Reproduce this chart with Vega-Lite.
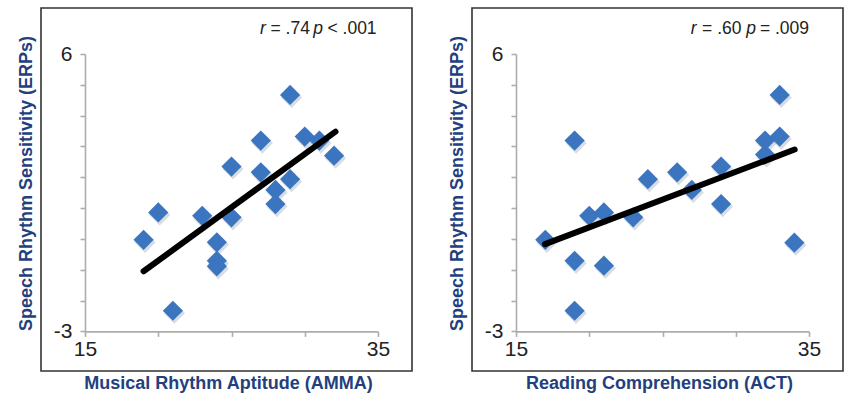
{
  "$schema": "https://vega.github.io/schema/vega-lite/v6.json",
  "padding": {"left": 16, "top": 7, "right": 0, "bottom": 0},
  "spacing": 34,
  "background": "white",
  "config": {
    "view": {"stroke": "#333333", "strokeWidth": 1.6},
    "font": "Liberation Sans",
    "axis": {
      "grid": false,
      "domainColor": "#adadad",
      "domainWidth": 1.6,
      "tickColor": "#adadad",
      "tickWidth": 1.6,
      "tickSize": 5,
      "labelFont": "Liberation Sans",
      "labelFontSize": 21,
      "labelColor": "#222222",
      "labelOverlap": false,
      "labelFlush": false,
      "titleFont": "Liberation Sans",
      "titleFontSize": 18,
      "titleFontWeight": "bold",
      "titleColor": "#22407d"
    }
  },
  "datasets": {
    "amma": [
      {"x": 19, "y": -0.03}, {"x": 20, "y": 0.86}, {"x": 21, "y": -2.33},
      {"x": 23, "y": 0.75}, {"x": 24, "y": -0.11}, {"x": 24, "y": -0.71},
      {"x": 24, "y": -0.89}, {"x": 25, "y": 2.35}, {"x": 25, "y": 0.70},
      {"x": 27, "y": 3.19}, {"x": 27, "y": 2.16}, {"x": 28, "y": 1.59},
      {"x": 28, "y": 1.13}, {"x": 29, "y": 4.67}, {"x": 29, "y": 1.94},
      {"x": 30, "y": 3.32}, {"x": 31, "y": 3.19}, {"x": 32, "y": 2.70}
    ],
    "act": [
      {"x": 17, "y": -0.03}, {"x": 19, "y": 3.19}, {"x": 19, "y": -0.71},
      {"x": 19, "y": -2.33}, {"x": 20, "y": 0.75}, {"x": 21, "y": 0.86},
      {"x": 21, "y": -0.87}, {"x": 23, "y": 0.70}, {"x": 24, "y": 1.94},
      {"x": 26, "y": 2.16}, {"x": 27, "y": 1.59}, {"x": 29, "y": 2.35},
      {"x": 29, "y": 1.13}, {"x": 32, "y": 3.19}, {"x": 32, "y": 2.74},
      {"x": 33, "y": 4.67}, {"x": 33, "y": 3.32}, {"x": 34, "y": -0.12}
    ],
    "amma_fit": [{"x": 19, "y": -1.05}, {"x": 32.1, "y": 3.48}],
    "act_fit": [{"x": 16.98, "y": -0.17}, {"x": 34.02, "y": 2.9}],
    "one": [{}]
  },
  "hconcat": [
    {
      "width": 371,
      "height": 363,
      "layer": [
        {
          "data": {"name": "amma"},
          "mark": {"type": "point", "shape": "diamond", "filled": true, "size": 450, "color": "#7f8ea3", "opacity": 0.3, "xOffset": 1.5, "yOffset": 2.5},
          "encoding": {
            "x": {"field": "x", "type": "quantitative",
              "scale": {"domain": [15, 35], "range": [44, 337], "nice": false, "zero": false},
              "axis": {"title": "Musical Rhythm Aptitude (AMMA)", "offset": -39.6, "values": [15, 20, 25, 30, 35],
                "labelExpr": "datum.value == 15 || datum.value == 35 ? datum.label : ''",
                "labelPadding": 2, "titlePadding": 15, "titleX": 187}},
            "y": {"field": "y", "type": "quantitative",
              "scale": {"domain": [-3, 6], "range": [323.4, 46], "nice": false, "zero": false},
              "axis": {"title": "Speech Rhythm Sensitivity (ERPs)", "offset": -44, "values": [-3, -2, -1, 0, 1, 2, 3, 4, 5, 6],
                "labelExpr": "datum.value == 6 ? '6' : datum.value == -3 ? '-3' : ''",
                "labelPadding": 8, "titlePadding": 18, "titleY": 175}}
          }
        },
        {
          "data": {"name": "amma"},
          "mark": {"type": "point", "shape": "diamond", "filled": true, "size": 410, "color": "#3b75bf", "opacity": 1},
          "encoding": {
            "x": {"field": "x", "type": "quantitative", "scale": {"domain": [15, 35], "range": [44, 337], "nice": false, "zero": false}},
            "y": {"field": "y", "type": "quantitative", "scale": {"domain": [-3, 6], "range": [323.4, 46], "nice": false, "zero": false}}
          }
        },
        {
          "data": {"name": "amma_fit"},
          "mark": {"type": "line", "color": "#000000", "strokeWidth": 6, "strokeCap": "round"},
          "encoding": {
            "x": {"field": "x", "type": "quantitative", "scale": {"domain": [15, 35], "range": [44, 337], "nice": false, "zero": false}},
            "y": {"field": "y", "type": "quantitative", "scale": {"domain": [-3, 6], "range": [323.4, 46], "nice": false, "zero": false}}
          }
        },
        {
          "data": {"name": "one"},
          "mark": {"type": "text", "text": "r", "fontStyle": "italic", "fontSize": 17.5, "color": "#222222", "align": "left", "baseline": "middle"},
          "encoding": {"x": {"datum": 26.95, "type": "quantitative"}, "y": {"datum": 6.81, "type": "quantitative"}}
        },
        {
          "data": {"name": "one"},
          "mark": {"type": "text", "text": "= .74", "fontSize": 17.5, "color": "#222222", "align": "left", "baseline": "middle"},
          "encoding": {"x": {"datum": 27.66, "type": "quantitative"}, "y": {"datum": 6.81, "type": "quantitative"}}
        },
        {
          "data": {"name": "one"},
          "mark": {"type": "text", "text": "p", "fontStyle": "italic", "fontSize": 17.5, "color": "#222222", "align": "left", "baseline": "middle"},
          "encoding": {"x": {"datum": 30.58, "type": "quantitative"}, "y": {"datum": 6.81, "type": "quantitative"}}
        },
        {
          "data": {"name": "one"},
          "mark": {"type": "text", "text": "< .001", "fontSize": 17.5, "color": "#222222", "align": "left", "baseline": "middle"},
          "encoding": {"x": {"datum": 31.55, "type": "quantitative"}, "y": {"datum": 6.81, "type": "quantitative"}}
        }
      ]
    },
    {
      "width": 371,
      "height": 363,
      "layer": [
        {
          "data": {"name": "act"},
          "mark": {"type": "point", "shape": "diamond", "filled": true, "size": 450, "color": "#7f8ea3", "opacity": 0.3, "xOffset": 1.5, "yOffset": 2.5},
          "encoding": {
            "x": {"field": "x", "type": "quantitative",
              "scale": {"domain": [15, 35], "range": [44, 337], "nice": false, "zero": false},
              "axis": {"title": "Reading Comprehension (ACT)", "offset": -39.6, "values": [15, 20, 25, 30, 35],
                "labelExpr": "datum.value == 15 || datum.value == 35 ? datum.label : ''",
                "labelPadding": 2, "titlePadding": 15, "titleX": 187}},
            "y": {"field": "y", "type": "quantitative",
              "scale": {"domain": [-3, 6], "range": [323.4, 46], "nice": false, "zero": false},
              "axis": {"title": "Speech Rhythm Sensitivity (ERPs)", "offset": -44, "values": [-3, -2, -1, 0, 1, 2, 3, 4, 5, 6],
                "labelExpr": "datum.value == 6 ? '6' : datum.value == -3 ? '-3' : ''",
                "labelPadding": 8, "titlePadding": 18, "titleY": 175}}
          }
        },
        {
          "data": {"name": "act"},
          "mark": {"type": "point", "shape": "diamond", "filled": true, "size": 410, "color": "#3b75bf", "opacity": 1},
          "encoding": {
            "x": {"field": "x", "type": "quantitative", "scale": {"domain": [15, 35], "range": [44, 337], "nice": false, "zero": false}},
            "y": {"field": "y", "type": "quantitative", "scale": {"domain": [-3, 6], "range": [323.4, 46], "nice": false, "zero": false}}
          }
        },
        {
          "data": {"name": "act_fit"},
          "mark": {"type": "line", "color": "#000000", "strokeWidth": 6, "strokeCap": "round"},
          "encoding": {
            "x": {"field": "x", "type": "quantitative", "scale": {"domain": [15, 35], "range": [44, 337], "nice": false, "zero": false}},
            "y": {"field": "y", "type": "quantitative", "scale": {"domain": [-3, 6], "range": [323.4, 46], "nice": false, "zero": false}}
          }
        },
        {
          "data": {"name": "one"},
          "mark": {"type": "text", "text": "r", "fontStyle": "italic", "fontSize": 17.5, "color": "#222222", "align": "left", "baseline": "middle"},
          "encoding": {"x": {"datum": 26.92, "type": "quantitative"}, "y": {"datum": 6.81, "type": "quantitative"}}
        },
        {
          "data": {"name": "one"},
          "mark": {"type": "text", "text": "= .60", "fontSize": 17.5, "color": "#222222", "align": "left", "baseline": "middle"},
          "encoding": {"x": {"datum": 27.7, "type": "quantitative"}, "y": {"datum": 6.81, "type": "quantitative"}}
        },
        {
          "data": {"name": "one"},
          "mark": {"type": "text", "text": "p", "fontStyle": "italic", "fontSize": 17.5, "color": "#222222", "align": "left", "baseline": "middle"},
          "encoding": {"x": {"datum": 30.72, "type": "quantitative"}, "y": {"datum": 6.81, "type": "quantitative"}}
        },
        {
          "data": {"name": "one"},
          "mark": {"type": "text", "text": "= .009", "fontSize": 17.5, "color": "#222222", "align": "left", "baseline": "middle"},
          "encoding": {"x": {"datum": 31.65, "type": "quantitative"}, "y": {"datum": 6.81, "type": "quantitative"}}
        }
      ]
    }
  ]
}
